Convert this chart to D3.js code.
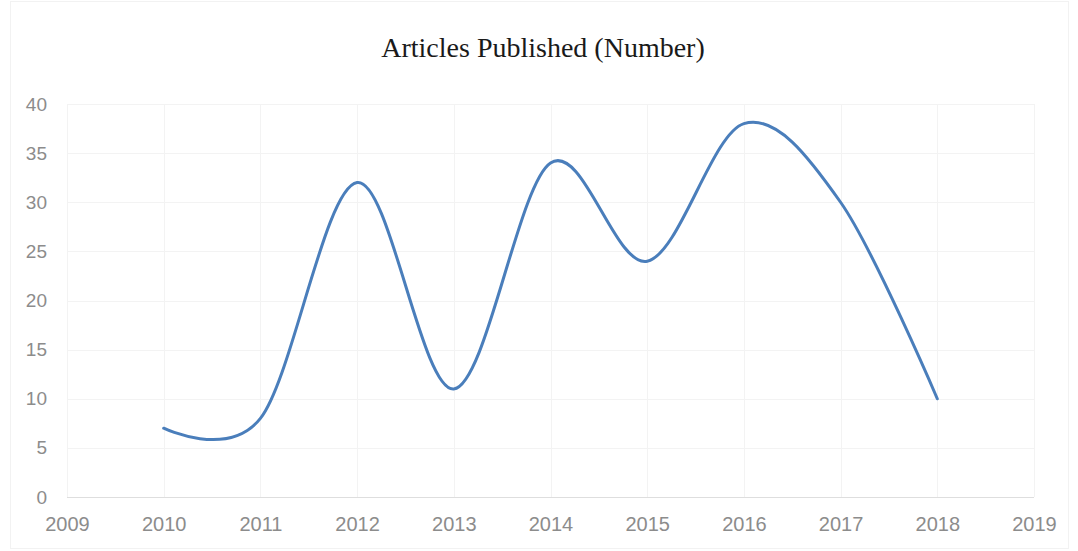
<html>
<head>
    <meta charset="utf-8">
    <title>Articles Published</title>
    <script src="https://d3js.org/d3.v7.min.js"></script>
    <style>
        body { margin: 0; background: #fff; }
    </style>
</head>
<body>
    <div id="chart"></div>
    <script>
        // values
        const years = [2010, 2011, 2012, 2013, 2014, 2015, 2016, 2017, 2018];
        const articles = [7, 8, 32, 11, 34, 24, 38, 30, 10];
        const xTicks = [2009, 2010, 2011, 2012, 2013, 2014, 2015, 2016, 2017, 2018, 2019];
        const yTicks = [0, 5, 10, 15, 20, 25, 30, 35, 40];

        const width = 1078, height = 551;
        const plot = { left: 67, right: 1034, top: 104, bottom: 497 };

        const svg = d3.select("#chart").append("svg")
            .attr("width", width)
            .attr("height", height);

        // faint chart border
        svg.append("rect")
            .attr("x", 10.5).attr("y", 1.5)
            .attr("width", 1058).attr("height", 547)
            .attr("fill", "none")
            .attr("stroke", "#f2f2f2");

        const x = d3.scaleLinear().domain([2009, 2019]).range([plot.left, plot.right]);
        const y = d3.scaleLinear().domain([0, 40]).range([plot.bottom, plot.top]);

        // gridlines
        svg.append("g").selectAll("line")
            .data(yTicks.filter(d => d > 0))
            .enter().append("line")
            .attr("x1", plot.left).attr("x2", plot.right)
            .attr("y1", d => Math.round(y(d)) + 0.5)
            .attr("y2", d => Math.round(y(d)) + 0.5)
            .attr("stroke", "#f3f3f3");

        svg.append("g").selectAll("line")
            .data(xTicks)
            .enter().append("line")
            .attr("y1", plot.top).attr("y2", plot.bottom)
            .attr("x1", d => Math.round(x(d)) + 0.5)
            .attr("x2", d => Math.round(x(d)) + 0.5)
            .attr("stroke", "#f3f3f3");

        // x axis line
        svg.append("line")
            .attr("x1", plot.left).attr("x2", plot.right)
            .attr("y1", plot.bottom + 0.5).attr("y2", plot.bottom + 0.5)
            .attr("stroke", "#dedede");

        // y axis labels
        const yAxis = d3.axisLeft(y).tickValues(yTicks).tickSize(0).tickPadding(20);
        const gy = svg.append("g")
            .attr("transform", `translate(${plot.left},0)`)
            .call(yAxis);
        gy.select(".domain").remove();
        gy.selectAll("text")
            .attr("fill", "#8c8c8c")
            .style("font-family", "'Liberation Sans', Arial, sans-serif")
            .style("font-size", "19px");

        // x axis labels
        const xAxis = d3.axisBottom(x).tickValues(xTicks).tickFormat(d3.format("d")).tickSize(0).tickPadding(20);
        const gx = svg.append("g")
            .attr("transform", `translate(0,${plot.bottom})`)
            .call(xAxis);
        gx.select(".domain").remove();
        gx.selectAll("text")
            .attr("fill", "#8c8c8c")
            .style("font-family", "'Liberation Sans', Arial, sans-serif")
            .style("font-size", "20px");

        // smoothed line
        const line = d3.line()
            .x((d, i) => x(years[i]))
            .y(d => y(d))
            .curve(d3.curveCatmullRom.alpha(0));

        svg.append("path")
            .datum(articles)
            .attr("d", line)
            .attr("fill", "none")
            .attr("stroke", "#4a7ebb")
            .attr("stroke-width", 3)
            .attr("stroke-linecap", "round");

        // title
        svg.append("text")
            .attr("x", 543)
            .attr("y", 57)
            .attr("text-anchor", "middle")
            .style("font-family", "'Liberation Serif', 'Times New Roman', serif")
            .style("font-size", "28px")
            .attr("fill", "#1a1a1a")
            .text("Articles Published (Number)");
    </script>
</body>
</html>
